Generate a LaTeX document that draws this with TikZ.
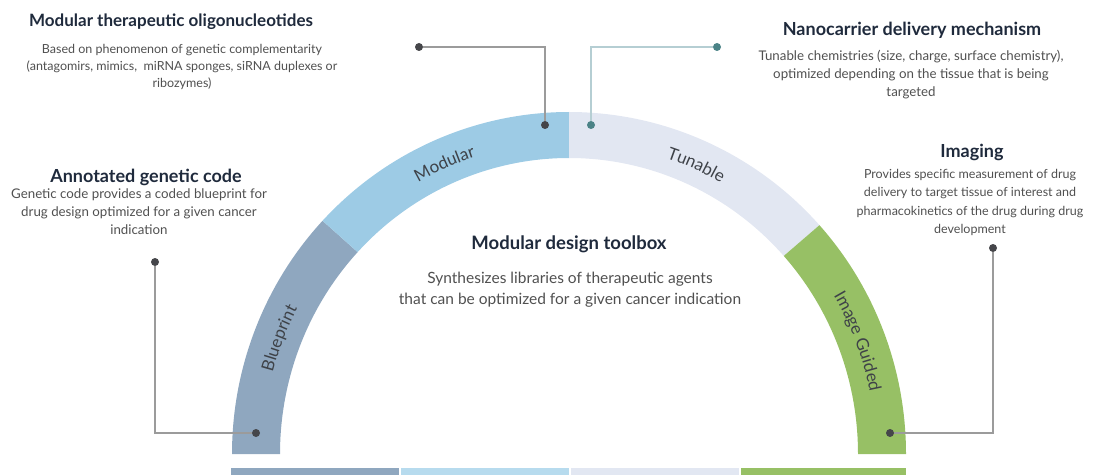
\documentclass[tikz,border=0pt]{standalone}
\usepackage{fontspec}
\setmainfont{Lato}
\usetikzlibrary{decorations.text}
\definecolor{cBlue}{HTML}{8FA7BF}
\definecolor{cSky}{HTML}{9DCBE5}
\definecolor{cSkyBar}{HTML}{B7DBEE}
\definecolor{cPale}{HTML}{E2E7F2}
\definecolor{cGreen}{HTML}{97C065}
\definecolor{cTitle}{HTML}{1F2A3C}
\definecolor{cBody}{HTML}{505050}
\definecolor{cLabel}{HTML}{3E4248}
\definecolor{cLine}{HTML}{9B9B9B}
\definecolor{cDot}{HTML}{45464A}
\definecolor{cTealLine}{HTML}{B5CED3}
\definecolor{cTealDot}{HTML}{4B8387}
\newcommand\arcfont{\fontsize{17}{17}\selectfont\color{cLabel}}
\newcommand\ringseg[3]{%
  \fill[#3] ({569+337*cos(#1)},{21+342*sin(#1)}) arc[start angle=#1,end angle=#2,x radius=337pt,y radius=342pt]
    -- ({569+289*cos(#2)},{21+296*sin(#2)}) arc[start angle=#2,end angle=#1,x radius=289pt,y radius=296pt] -- cycle;}
\newcommand\ringlabel[3]{%
  \path[decorate,decoration={text along path,text align=center,text={|\arcfont|#3}}]
    ({569+307*cos(#1)},{21+312*sin(#1)}) arc[start angle=#1,end angle=#2,x radius=307pt,y radius=312pt];}
\begin{document}
\begin{tikzpicture}[x=1pt,y=1pt,
  ttl/.style={font=\fontsize{18}{21}\selectfont\bfseries, text=cTitle, inner sep=0pt},
  bdy/.style={font=\fontsize{12.5}{17}\selectfont, text=cBody, align=center, inner sep=0pt},
  bdymid/.style={font=\fontsize{13.3}{18}\selectfont, text=cBody, align=center, inner sep=0pt},
  bdybig/.style={font=\fontsize{15.5}{21}\selectfont, text=cBody, align=center, inner sep=0pt},
  dot/.style={circle, fill=cDot, minimum size=8pt, inner sep=0pt},
  tdot/.style={circle, fill=cTealDot, minimum size=8pt, inner sep=0pt},
  conn/.style={draw=cLine, line width=1.3pt},
  tconn/.style={draw=cTealLine, line width=1.3pt}]
\useasboundingbox (0,0) rectangle (1106,475);
% ring segments
\ringseg{180}{137}{cBlue}
\ringseg{137}{90}{cSky}
\ringseg{90}{42}{cPale}
\ringseg{42}{0}{cGreen}
% ring labels
\ringlabel{180}{137}{Blueprint}
\ringlabel{137}{90}{Modular}
\ringlabel{90}{42}{Tunable}
\ringlabel{42}{0}{Image Guided}
% bottom bars
\fill[cBlue] (231,0) rectangle (398.5,7);
\fill[cSkyBar] (400.5,0) rectangle (568.5,7);
\fill[cPale] (570.5,0) rectangle (738.5,7);
\fill[cGreen] (740.5,0) rectangle (906,7);
% texts
\node[ttl, font=\fontsize{17}{20}\selectfont\bfseries] (t1) at (171,453) {Modular therapeutic oligonucleotides};
\node[bdy] (b1) at (182,408) {Based on phenomenon of genetic complementarity\\(antagomirs, mimics,\ \ miRNA sponges, siRNA duplexes or\\ribozymes)};
\node[ttl] (t2) at (146,298) {Annotated genetic code};
\node[bdymid] (b2) at (139,263) {Genetic code provides a coded blueprint for\\drug design optimized for a given cancer\\indication};
\node[ttl] (t3) at (912,445) {Nanocarrier delivery mechanism};
\node[bdymid] (b3) at (911,400) {Tunable chemistries (size, charge, surface chemistry),\\optimized depending on the tissue that is being\\targeted};
\node[ttl] (t4) at (972,323) {Imaging};
\node[bdy, font=\fontsize{12.5}{18.3}\selectfont] (b4) at (970,272.5) {Provides specific measurement of drug\\delivery to target tissue of interest and\\pharmacokinetics of the drug during drug\\development};
\node[ttl, font=\fontsize{18.5}{21}\selectfont\bfseries] (t5) at (569,231) {Modular design toolbox};
\node[bdybig] (b5) at (570,185) {Synthesizes libraries of therapeutic agents\\that can be optimized for a given cancer indication};
% dots
\node[dot] (mdot) at (545,350) {};
\node[dot] (mend) at (419,428) {};
\node[tdot] (tdot1) at (591,350) {};
\node[tdot] (tend) at (717,428) {};
\node[dot] (bdot) at (256,42) {};
\node[dot] (bend) at (155,213) {};
\node[dot] (idot) at (890,42) {};
\node[dot] (iend) at (993,227) {};
% connectors
\draw[conn] (mdot) |- (mend);
\draw[tconn] (tdot1) |- (tend);
\draw[conn] (bdot) -| (bend);
\draw[conn] (idot) -| (iend);
\end{tikzpicture}
\end{document}
